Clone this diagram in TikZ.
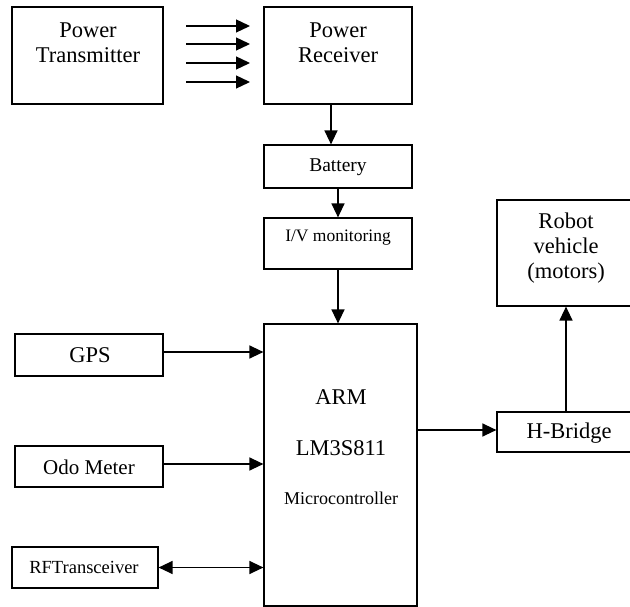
\documentclass[tikz,border=0pt]{standalone}
\usepackage{fontspec}
\setmainfont{Liberation Serif}
\usetikzlibrary{arrows.meta}
\begin{document}
\begin{tikzpicture}[x=1pt,y=-1pt,
  blk/.style={draw=black,line width=1.2pt,rectangle,inner sep=0pt,fill=none},
  lbl/.style={inner sep=0pt,align=center,font=\fontsize{22.5}{25}\selectfont},
  arr/.style={line width=1.3pt,-{Triangle[length=14pt,width=13pt]}},
  darr/.style={line width=1.3pt,{Triangle[length=14pt,width=13pt]}-{Triangle[length=14pt,width=13pt]}}]
\clip (0,0) rectangle (630,607);
\useasboundingbox (0,0) rectangle (630,607);
% boxes
\node[blk,minimum width=151pt,minimum height=97pt] (pt) at (87.5,55.5) {};
\node[blk,minimum width=148pt,minimum height=97pt] (pr) at (338,55.5) {};
\node[blk,minimum width=148pt,minimum height=43pt] (bat) at (338,166.5) {};
\node[blk,minimum width=148pt,minimum height=51pt] (iv) at (338,243.5) {};
\node[blk,minimum width=153pt,minimum height=282pt] (arm) at (340.5,465) {};
\node[blk,minimum width=148pt,minimum height=42pt] (gps) at (89,355) {};
\node[blk,minimum width=148pt,minimum height=41pt] (odo) at (89,466.5) {};
\node[blk,minimum width=146pt,minimum height=41pt] (rf) at (85,567.5) {};
\node[blk,minimum width=143pt,minimum height=40pt] (hb) at (568.5,432) {};
\node[blk,minimum width=143pt,minimum height=106pt] (rv) at (568.5,253) {};
% texts
\node[lbl] (ptt) at (88,42.5) {Power\\Transmitter};
\node[lbl] (prt) at (338,42.5) {Power\\Receiver};
\node[lbl,font=\fontsize{19.5}{22}\selectfont] (batt) at (338,167) {Battery};
\node[lbl,font=\fontsize{17.5}{20}\selectfont] (ivt) at (338,238) {I/V monitoring};
\node[lbl] (rvt) at (566,248) {Robot\\vehicle\\(motors)};
\node[lbl] (hbt) at (569,433) {H-Bridge};
\node[lbl] (gpst) at (90,355) {GPS};
\node[lbl,font=\fontsize{21}{24}\selectfont] (odot) at (89,467) {Odo Meter};
\node[lbl,font=\fontsize{18.5}{21}\selectfont] (rft) at (84,567) {RFTransceiver};
\node[lbl] (armt) at (341,397) {ARM};
\node[lbl] (lmt) at (341,448) {LM3S811};
\node[lbl,font=\fontsize{18}{20}\selectfont] (mct) at (341,498) {Microcontroller};
% wireless arrows
\coordinate (w1s) at (186,26); \coordinate (w1e) at (250,26);
\coordinate (w2s) at (186,44); \coordinate (w2e) at (250,44);
\coordinate (w3s) at (186,63); \coordinate (w3e) at (250,63);
\coordinate (w4s) at (186,82); \coordinate (w4e) at (250,82);
\draw[arr] (w1s) -- (w1e);
\draw[arr] (w2s) -- (w2e);
\draw[arr] (w3s) -- (w3e);
\draw[arr] (w4s) -- (w4e);
% connectors
\draw[arr] ([xshift=-7pt]pr.south) -- ([xshift=-7pt]bat.north);
\draw[arr] (bat.south) -- (iv.north);
\draw[arr] (iv.south) -- (iv.south |- arm.north);
\draw[arr] ([yshift=3pt]gps.east) -- ([yshift=3pt]gps.east -| arm.west);
\draw[arr] ([yshift=2.5pt]odo.east) -- ([yshift=2.5pt]odo.east -| arm.west);
\draw[darr] (rf.east) -- (rf.east -| arm.west);
\draw[arr] ([yshift=2pt]hb.west -| arm.east) -- ([yshift=2pt]hb.west);
\draw[arr] ([xshift=-2.5pt]hb.north) -- ([xshift=-2.5pt]rv.south);
\end{tikzpicture}
\end{document}
